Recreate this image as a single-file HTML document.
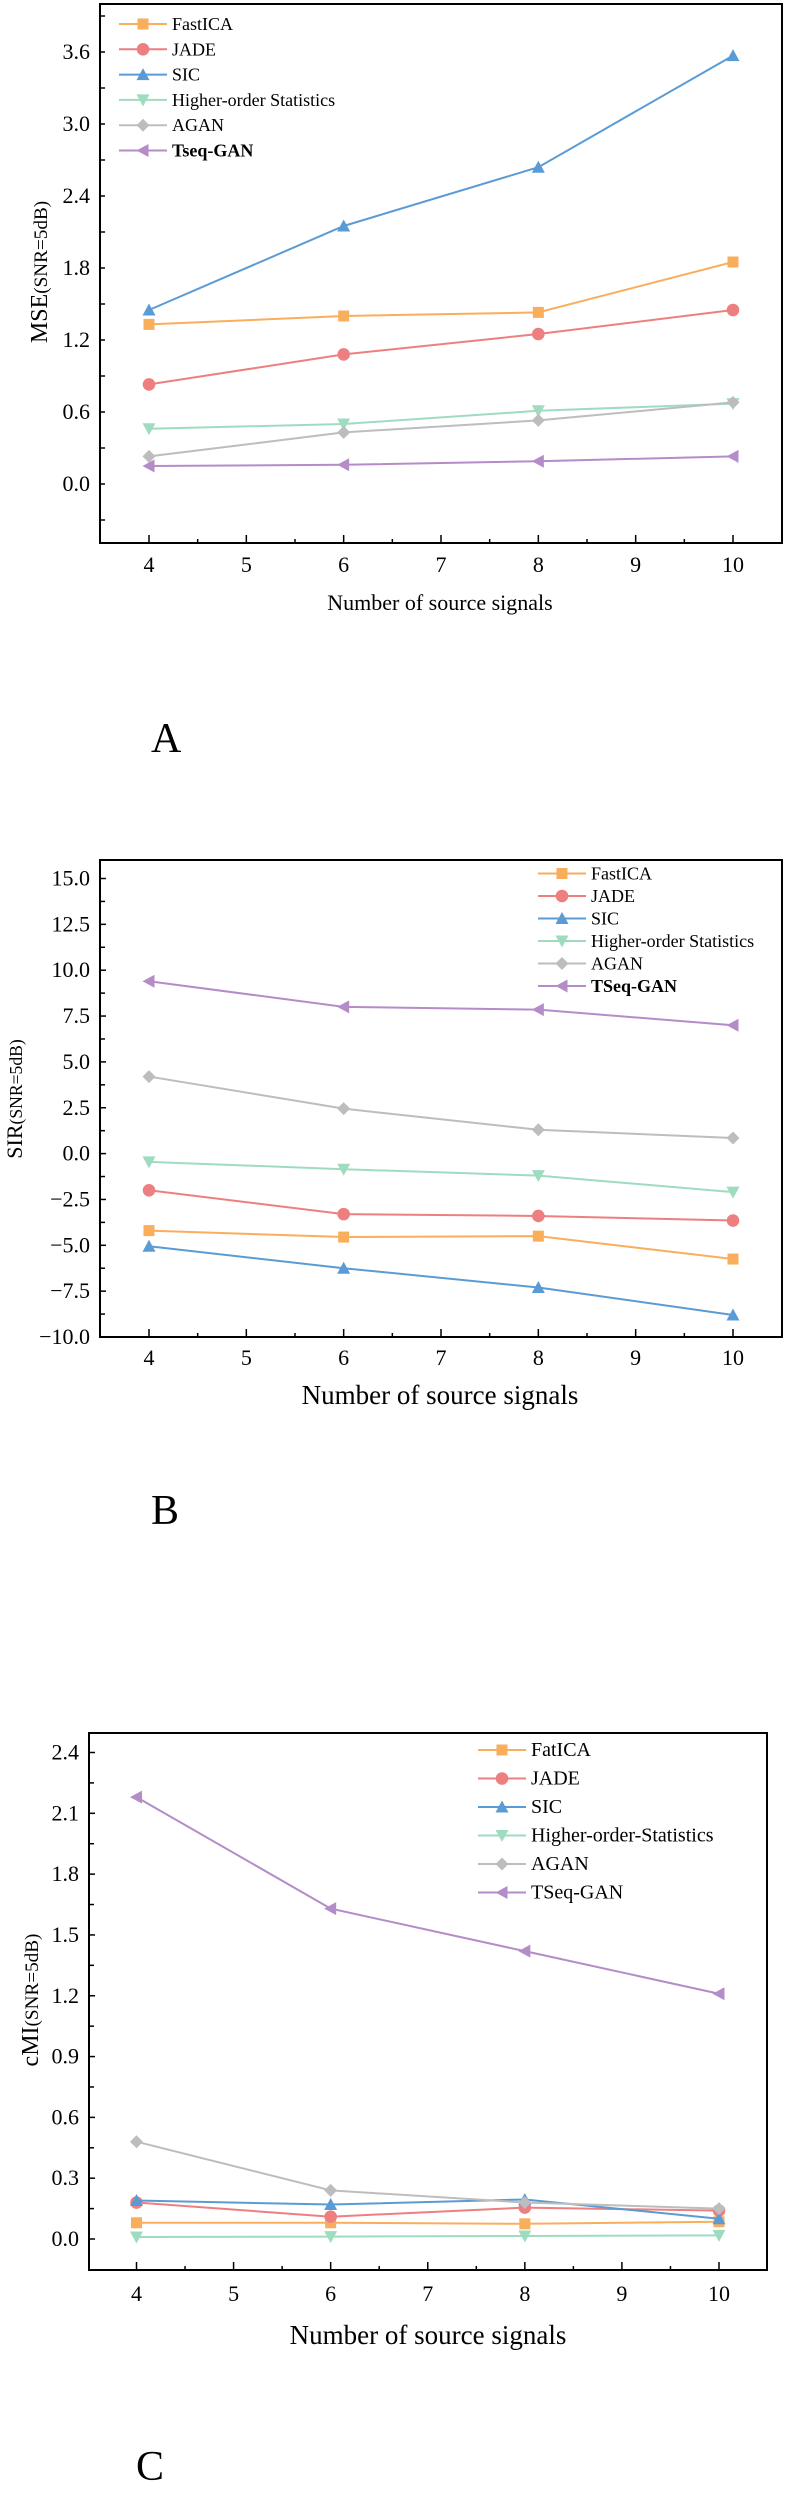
<!DOCTYPE html>
<html><head><meta charset="utf-8"><style>
body{margin:0;background:#fff;width:786px;height:2500px;overflow:hidden}
svg{display:block;font-family:"Liberation Serif",serif}
</style></head><body>
<svg id="s" width="786" height="2500" viewBox="0 0 786 2500"></svg>
<script>
const xCats=[4,6,8,10];
const names=["FastICA","JADE","SIC","Higher-order Statistics","AGAN","Tseq-GAN"];
const namesB=["FastICA","JADE","SIC","Higher-order Statistics","AGAN","TSeq-GAN"];
const namesC=["FatICA","JADE","SIC","Higher-order-Statistics","AGAN","TSeq-GAN"];
const colors=["#f9ae5c","#ee7f80","#5b9bd5","#9fdcbf","#bdbdbd","#b48cc8"];
const markers=["square","circle","tri","tridown","diamond","left"];
const mseFast=[1.33,1.40,1.43,1.85];
const mseJade=[0.83,1.08,1.25,1.45];
const mseSic=[1.45,2.15,2.64,3.57];
const mseHos=[0.46,0.50,0.61,0.67];
const mseAgan=[0.23,0.43,0.53,0.68];
const mseTseq=[0.15,0.16,0.19,0.23];
const sirFast=[-4.2,-4.55,-4.5,-5.75];
const sirJade=[-2.0,-3.3,-3.4,-3.65];
const sirSic=[-5.05,-6.25,-7.3,-8.8];
const sirHos=[-0.45,-0.85,-1.2,-2.1];
const sirAgan=[4.2,2.45,1.3,0.85];
const sirTseq=[9.4,8.0,7.85,7.0];
const cmiFast=[0.08,0.08,0.075,0.085];
const cmiJade=[0.18,0.11,0.155,0.14];
const cmiSic=[0.19,0.17,0.195,0.10];
const cmiHos=[0.01,0.012,0.015,0.018];
const cmiAgan=[0.48,0.24,0.18,0.15];
const cmiTseq=[2.18,1.63,1.42,1.21];
const mseTicks=["0.0","0.6","1.2","1.8","2.4","3.0","3.6"];
const sirTicks=["−10.0","−7.5","−5.0","−2.5","0.0","2.5","5.0","7.5","10.0","12.5","15.0"];
const cmiTicks=["0.0","0.3","0.6","0.9","1.2","1.5","1.8","2.1","2.4"];
const xTicks=[4,5,6,7,8,9,10];

const NS="http://www.w3.org/2000/svg";
const svg=document.getElementById('s');
function el(t,a,p){const e=document.createElementNS(NS,t);for(const k in a)e.setAttribute(k,a[k]);(p||svg).appendChild(e);return e;}
function marker(g,type,x,y,c,r){
  let e;
  if(type==="square")e=el('rect',{x:x-r,y:y-r,width:2*r,height:2*r,fill:c},g);
  else if(type==="circle")e=el('circle',{cx:x,cy:y,r:r+0.8,fill:c},g);
  else if(type==="tri")e=el('polygon',{points:`${x},${y-r-1} ${x-r-1},${y+r} ${x+r+1},${y+r}`,fill:c},g);
  else if(type==="tridown")e=el('polygon',{points:`${x},${y+r+1} ${x-r-1},${y-r} ${x+r+1},${y-r}`,fill:c},g);
  else if(type==="diamond")e=el('polygon',{points:`${x},${y-r-1} ${x+r+1},${y} ${x},${y+r+1} ${x-r-1},${y}`,fill:c},g);
  else e=el('polygon',{points:`${x-r-1},${y} ${x+r},${y-r-1} ${x+r},${y+r+1}`,fill:c},g);
  return e;
}
function chart(o){
  const g=el('g',{});
  
  
  const X=v=>o.x4+(v-4)/6*(o.x10-o.x4);
  const Y=v=>o.y0+(v-o.v0)/(o.v1-o.v0)*(o.y1-o.y0);
  o.tickVals.forEach((v,i)=>{
    const y=Y(v);
    const t=el('line',{x1:o.L,x2:o.L+o.tl,y1:y,y2:y,stroke:'#000','stroke-width':1.5},g);
    
    const yl=Y(v+o.step/2);
    if(yl>o.T+2)el('line',{x1:o.L,x2:o.L+5,y1:yl,y2:yl,stroke:'#000','stroke-width':1.5},g);
    const tx=el('text',{x:o.L-10,y:y+7,'text-anchor':'end','font-size':o.fs},g);
    tx.textContent=o.tickLabels[i];
    
  });
  const yb=Y(o.tickVals[0]-o.step/2);
  if(yb<o.B-2)el('line',{x1:o.L,x2:o.L+5,y1:yb,y2:yb,stroke:'#000','stroke-width':1.5},g);
  xTicks.forEach(v=>{
    const x=X(v);
    el('line',{x1:x,x2:x,y1:o.B,y2:o.B-8,stroke:'#000','stroke-width':1.5},g);
    if(v<10)el('line',{x1:X(v+0.5),x2:X(v+0.5),y1:o.B,y2:o.B-4,stroke:'#000','stroke-width':1.5},g);
    const tx=el('text',{x:x,y:o.B+o.xly,'text-anchor':'middle','font-size':o.fs},g);
    tx.textContent=v;
    
  });
  const fr=el('rect',{x:o.L,y:o.T,width:o.R-o.L,height:o.B-o.T,fill:'none',stroke:'#000','stroke-width':2},g);
  
  o.series.forEach((d,si)=>{
    const sg=el('g',{},g);
    
    
    el('polyline',{points:d.map((v,i)=>X(xCats[i])+','+Y(v)).join(' '),fill:'none',stroke:colors[si],'stroke-width':2},sg);
    d.forEach((v,i)=>{const m=marker(sg,markers[si],X(xCats[i]),Y(v),colors[si],5.5);
      });
  });
  const lg=el('g',{},g);
  
  o.names.forEach((n,i)=>{
    const y=o.lgY+i*o.lgDy;
    const e=el('g',{},lg);
    
    el('line',{x1:o.lgX,x2:o.lgX+48,y1:y,y2:y,stroke:colors[i],'stroke-width':2},e);
    marker(e,markers[i],o.lgX+24,y,colors[i],5.5);
    const t=el('text',{x:o.lgX+53,y:y+6,'font-size':o.lfs},e);
    if(o.bold&&i===5)t.setAttribute('font-weight','bold');
    t.textContent=n;
  });
  const xl=el('text',{x:o.xlX,y:o.xlY,'text-anchor':'middle','font-size':o.xfs},g);
  xl.textContent='Number of source signals';
  
  const yl=el('text',{transform:`translate(${o.ylX},${o.ylY}) rotate(-90)`,'text-anchor':'middle','font-size':o.yfs},g);
  yl.innerHTML=o.yTitle+'<tspan font-size="'+(o.yfs*0.8)+'">(SNR=5dB)</tspan>';
  
  const pl=el('text',{x:o.pX,y:o.pY,'font-size':42},g);
  pl.textContent=o.panel;
  
}
chart({id:'mse',L:100,R:782,T:4,B:543,x4:149,x10:733,v0:0,v1:3.6,y0:484,y1:52,step:0.6,tl:5,
  tickVals:[0,0.6,1.2,1.8,2.4,3.0,3.6],tickLabels:mseTicks,fs:22,xly:29,
  series:[mseFast,mseJade,mseSic,mseHos,mseAgan,mseTseq],names:names,bold:true,
  lgX:119,lgY:24,lgDy:25.3,lfs:18,xlX:440,xlY:610,xfs:22,yTitle:'MSE',ylX:47,ylY:272,yfs:24,panel:'A',pX:151,pY:752});
chart({id:'sir',L:100,R:782,T:860,B:1337,x4:149,x10:733,v0:-10,v1:15,y0:1337,y1:878.5,step:2.5,tl:6,
  tickVals:[-10,-7.5,-5,-2.5,0,2.5,5,7.5,10,12.5,15],tickLabels:sirTicks,fs:22,xly:28,
  series:[sirFast,sirJade,sirSic,sirHos,sirAgan,sirTseq],names:namesB,bold:true,
  lgX:538,lgY:873.5,lgDy:22.5,lfs:18,xlX:440,xlY:1404,xfs:27,yTitle:'SIR',ylX:22,ylY:1099,yfs:22,panel:'B',pX:151,pY:1524});
chart({id:'cmi',L:89,R:767,T:1733,B:2270,x4:136.5,x10:719,v0:0,v1:2.4,y0:2239,y1:1752.5,step:0.3,tl:6,
  tickVals:[0,0.3,0.6,0.9,1.2,1.5,1.8,2.1,2.4],tickLabels:cmiTicks,fs:22,xly:31,
  series:[cmiFast,cmiJade,cmiSic,cmiHos,cmiAgan,cmiTseq],names:namesC,bold:false,
  lgX:478,lgY:1750,lgDy:28.5,lfs:20,xlX:428,xlY:2344,xfs:27,yTitle:'cMI',ylX:38,ylY:2000,yfs:24,panel:'C',pX:136,pY:2480});
</script>
</body></html>
